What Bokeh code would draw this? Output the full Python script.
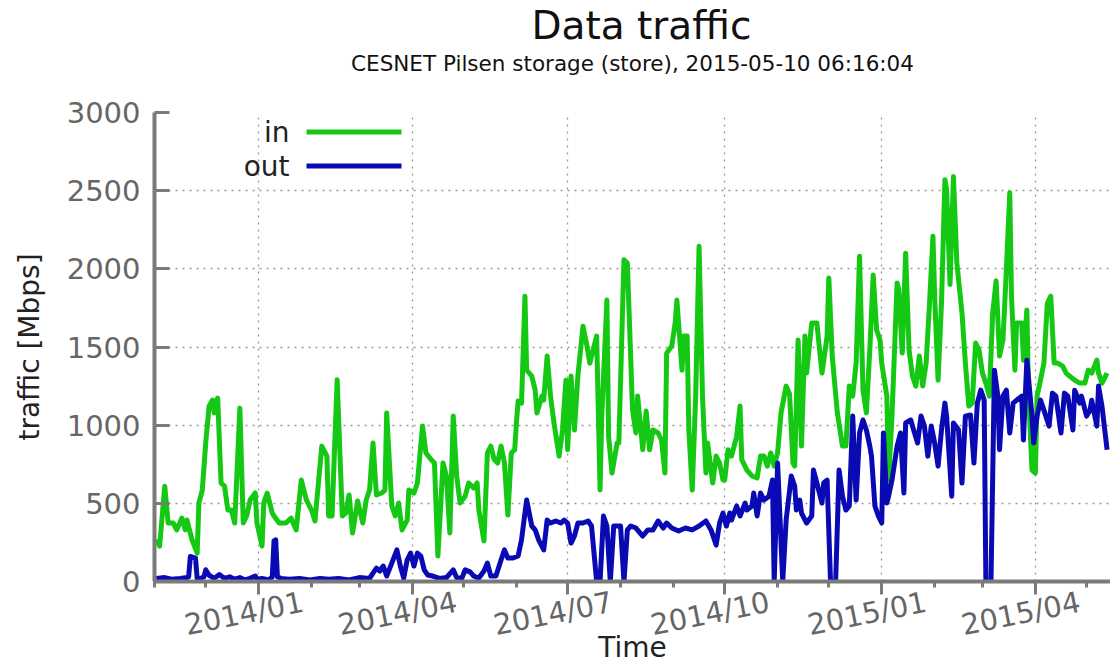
import pandas as pd
from bokeh.plotting import figure
from bokeh.models import (FixedTicker, DatetimeTickFormatter, Range1d, Label, BoxAnnotation,
                          DatetimeAxis, LinearAxis, CustomJSTickFormatter)
from bokeh.embed import file_html
from bokeh.resources import INLINE

start_date = "2013-11-01"
range_days = 560

in_days = [1, 3, 6, 8, 11, 13, 16, 18, 19, 22, 25, 26, 28, 30, 32, 34, 35, 37, 39, 41, 43, 45, 47, 50, 52, 54,
           56, 59, 60, 63, 64, 66, 69, 70, 73, 77, 80, 83, 86, 89, 92, 94, 98, 101, 102, 104, 107, 110, 112, 114,
           116, 119, 122, 124, 126, 128, 130, 133, 135, 136, 139, 141, 143, 145, 148, 149, 152, 154, 157, 159,
           162, 164, 166, 169, 171, 173, 175, 177, 179, 182, 184, 187, 189, 190, 193, 195, 197, 199, 201, 203,
           205, 207, 209, 211, 212, 213, 215, 217, 218, 221, 223, 224, 227, 228, 230, 232, 234, 237, 239, 241,
           242, 244, 246, 248, 251, 253, 255, 256, 259, 261, 262, 265, 266, 268, 271, 272, 275, 277, 280, 282,
           283, 286, 288, 290, 292, 295, 297, 299, 300, 303, 305, 306, 309, 310, 312, 313, 315, 317, 319, 321,
           323, 324, 327, 329, 331, 333, 334, 336, 338, 341, 343, 344, 347, 350, 353, 355, 357, 359, 361, 363,
           365, 367, 370, 372, 374, 375, 377, 379, 381, 382, 385, 388, 389, 391, 394, 395, 397, 400, 403, 405,
           407, 409, 411, 413, 415, 417, 419, 421, 423, 425, 426, 429, 430, 432, 435, 436, 438, 440, 442, 444,
           446, 448, 450, 452, 454, 456, 457, 459, 461, 463, 464, 466, 468, 470, 473, 475, 477, 479, 481, 483,
           485, 487, 489, 491, 493, 495, 497, 499, 501, 502, 504, 505, 508, 509, 511, 512, 514, 516, 517, 519,
           521, 523, 525, 527, 529, 532, 534, 536, 539, 542, 545, 547, 549, 552, 553, 555, 558]
in_mbps = [267, 227, 610, 374, 374, 330, 406, 330, 393, 267, 182, 502, 585, 886, 1122, 1161, 1078, 1173, 630,
           610, 457, 457, 374, 1109, 374, 419, 521, 566, 374, 227, 502, 566, 438, 419, 374, 374, 406, 330, 649,
           521, 457, 387, 866, 802, 419, 419, 1290, 419, 438, 553, 310, 515, 374, 521, 585, 886, 553, 566, 585,
           1078, 483, 419, 502, 330, 393, 585, 566, 630, 994, 822, 780, 758, 163, 758, 675, 310, 1058, 675, 502,
           546, 630, 598, 630, 457, 259, 822, 866, 780, 758, 866, 758, 425, 822, 843, 1014, 1154, 1141, 1825,
           1352, 1314, 1224, 1078, 1186, 1160, 1442, 1186, 1014, 802, 969, 1288, 843, 1314, 969, 1314, 1633,
           1525, 1397, 1442, 1570, 585, 1058, 1800, 929, 694, 886, 886, 2058, 2037, 1100, 950, 1186, 843, 1090,
           843, 969, 950, 905, 694, 1461, 1506, 1654, 1800, 1352, 1570, 1570, 969, 585, 1186, 2144, 1186, 694,
           886, 630, 802, 758, 649, 649, 843, 802, 929, 1122, 780, 713, 675, 662, 802, 802, 738, 822, 738, 822,
           1078, 1250, 1200, 758, 738, 1544, 866, 1570, 1333, 1654, 1654, 1544, 1333, 1570, 1942, 1442, 1078,
           866, 866, 1250, 1186, 1397, 2080, 1224, 1078, 1480, 1960, 1608, 1544, 1397, 1186, 649, 1058, 1910,
           1865, 1461, 2100, 1480, 1314, 1250, 1442, 1250, 1397, 1780, 2209, 1825, 1288, 1780, 2570, 2506, 1900,
           2590, 2037, 1718, 1397, 1122, 1141, 1525, 1480, 1333, 1269, 1186, 1718, 1923, 1442, 1544, 1993, 2487,
           1825, 1352, 1654, 1654, 1416, 1737, 1205, 713, 694, 1186, 1288, 1397, 1780, 1825, 1397, 1397, 1378,
           1333, 1314, 1288, 1269, 1269, 1352, 1333, 1416, 1333, 1269, 1333]

out_days = [1, 6, 10, 15, 19, 20, 21, 24, 25, 26, 29, 30, 32, 35, 38, 41, 44, 47, 50, 53, 56, 59, 60, 63, 67,
            69, 70, 71, 72, 74, 79, 85, 91, 97, 102, 108, 114, 120, 126, 128, 130, 132, 134, 136, 139, 142, 144,
            146, 148, 150, 152, 154, 156, 158, 160, 163, 167, 171, 175, 177, 180, 182, 185, 187, 190, 193, 195,
            197, 200, 203, 205, 207, 210, 213, 215, 217, 218, 221, 223, 225, 228, 230, 232, 235, 238, 240, 242,
            244, 246, 248, 251, 254, 256, 259, 261, 263, 265, 267, 269, 271, 273, 275, 277, 279, 282, 286, 289,
            292, 295, 298, 300, 303, 307, 311, 315, 319, 323, 326, 329, 331, 333, 335, 337, 338, 341, 343, 346,
            347, 350, 351, 353, 355, 357, 360, 362, 363, 365, 368, 370, 373, 375, 376, 378, 379, 382, 385, 386,
            388, 391, 392, 394, 396, 399, 401, 403, 405, 407, 409, 411, 413, 415, 417, 419, 420, 422, 424, 426,
            427, 429, 430, 432, 435, 437, 439, 440, 443, 444, 447, 449, 451, 453, 455, 457, 459, 461, 463, 464,
            467, 468, 471, 473, 475, 478, 480, 482, 484, 486, 487, 490, 492, 494, 495, 497, 499, 501, 503, 505,
            508, 509, 511, 514, 515, 517, 519, 521, 524, 526, 528, 531, 533, 535, 538, 539, 542, 543, 546, 548,
            549, 552, 553, 555, 558]
out_mbps = [20, 25, 15, 20, 25, 30, 160, 150, 20, 15, 30, 75, 40, 20, 45, 20, 30, 15, 25, 10, 20, 35, 15, 20,
            10, 30, 260, 267, 30, 20, 15, 20, 10, 20, 15, 20, 10, 25, 20, 54, 86, 67, 99, 35, 118, 202, 99, 22,
            137, 182, 99, 182, 163, 75, 42, 35, 20, 25, 75, 25, 20, 75, 60, 35, 22, 67, 118, 35, 35, 137, 202,
            150, 150, 163, 267, 438, 521, 355, 330, 267, 202, 393, 374, 387, 374, 393, 374, 246, 291, 374, 374,
            387, 355, 0, 0, 419, 355, 0, 355, 355, 355, 0, 330, 355, 342, 291, 330, 330, 387, 342, 374, 342, 323,
            342, 330, 355, 387, 330, 233, 374, 438, 355, 438, 393, 483, 419, 502, 457, 483, 566, 419, 566, 521,
            546, 649, 0, 758, 0, 393, 675, 610, 457, 521, 438, 374, 419, 713, 630, 502, 630, 649, 0, 0, 713, 546,
            457, 483, 1058, 521, 950, 1033, 969, 866, 802, 483, 419, 374, 950, 502, 546, 649, 866, 950, 566, 1014,
            1033, 994, 886, 1058, 994, 802, 994, 886, 738, 969, 1141, 1058, 546, 1014, 969, 630, 1058, 1065, 758,
            1141, 1224, 1160, 0, 0, 1352, 1186, 843, 1186, 1224, 950, 1141, 1160, 1186, 905, 1416, 1058, 886,
            1058, 1160, 1096, 994, 1205, 1186, 950, 1205, 1186, 969, 1224, 1141, 1186, 1058, 1096, 1160, 994,
            1250, 1122, 843]

x_ticks = ["2014-01-01", "2014-04-01", "2014-07-01", "2014-10-01", "2015-01-01", "2015-04-01"]
x_minor_ticks = ["2013-11-01", "2013-12-01", "2014-02-01", "2014-03-01", "2014-05-01", "2014-06-01",
                 "2014-08-01", "2014-09-01", "2014-11-01", "2014-12-01", "2015-02-01", "2015-03-01",
                 "2015-05-01"]
y_ticks = [0, 500, 1000, 1500, 2000, 2500, 3000]

title_text = "Data traffic"
subtitle_text = "CESNET Pilsen storage (store), 2015-05-10 06:16:04"
x_label = "Time"
y_label = "traffic [Mbps]"
series_names = ["in", "out"]
series_colors = ["#14c814", "#0a0ab4"]


def ms(ts):
    return pd.Timestamp(ts).value // 10**6


base = pd.Timestamp(start_date)
in_x = base + pd.to_timedelta(in_days, unit="D")
out_x = base + pd.to_timedelta(out_days, unit="D")

FONT = "DejaVu Sans"
GRAY = "#7a7a7a"
LABEL_GRAY = "#666666"
TICK_FS = "29px"

p = figure(x_axis_type="datetime", frame_width=956, frame_height=469,
           min_border_left=154, min_border_top=0, min_border_right=0, min_border_bottom=0,
           x_range=Range1d(ms(base), ms(base + pd.Timedelta(days=range_days))),
           y_range=Range1d(0, 3000),
           title=title_text,
           output_backend="svg", toolbar_location=None)
p.outline_line_color = None
p.background_fill_color = "white"
p.border_fill_color = "white"

p.title.text_font = FONT
p.title.text_font_size = "39px"
p.title.text_font_style = "normal"
p.title.text_color = "#111111"
p.title.align = "left"
p.title.offset = 377
p.title.standoff = 0

xa = p.below[0]   # the bottom datetime axis: ticks only
ya = p.left[0]

# subtitle as the label of a bare axis above the frame
sub_ax = LinearAxis(ticker=FixedTicker(ticks=[]), axis_label=subtitle_text,
                    axis_line_color=None, major_tick_line_color=None, minor_tick_line_color=None,
                    major_tick_in=0, major_tick_out=0, minor_tick_in=0, minor_tick_out=0,
                    major_label_standoff=0, axis_label_standoff=37,
                    axis_label_text_font=FONT, axis_label_text_font_size="21.5px",
                    axis_label_text_font_style="normal", axis_label_text_color="#111111")
p.add_layout(sub_ax, "above")

p.line(in_x, in_mbps, line_color=series_colors[0], line_width=5, line_join="round")
p.line(out_x, out_mbps, line_color=series_colors[1], line_width=5, line_join="round")

x_major = FixedTicker(ticks=[ms(t) for t in x_ticks], minor_ticks=[ms(t) for t in x_minor_ticks])
xa.ticker = x_major
xa.formatter = CustomJSTickFormatter(code="return ''")
xa.major_label_standoff = 0
xa.axis_line_color = GRAY
xa.axis_line_width = 4
xa.major_tick_line_color = GRAY
xa.major_tick_line_width = 3
xa.minor_tick_line_color = GRAY
xa.minor_tick_line_width = 3
xa.major_tick_in = 0
xa.major_tick_out = 13
xa.minor_tick_in = 0
xa.minor_tick_out = 6

# slanted month labels, centred near their ticks (gnuplot style)
label_shift = pd.Timedelta(days=26)
fmt = "%Y/%m"
xl = DatetimeAxis(ticker=FixedTicker(ticks=[ms(pd.Timestamp(t) + label_shift) for t in x_ticks], minor_ticks=[]),
                  formatter=DatetimeTickFormatter(microseconds=fmt, milliseconds=fmt, seconds=fmt, minsec=fmt,
                                                  minutes=fmt, hourmin=fmt, hours=fmt, days=fmt, months=fmt,
                                                  years=fmt),
                  axis_line_color=None, major_tick_line_color=None, minor_tick_line_color=None,
                  major_tick_in=0, major_tick_out=0, minor_tick_in=0, minor_tick_out=0,
                  major_label_orientation=0.2, major_label_standoff=7,
                  major_label_text_font=FONT, major_label_text_font_size=TICK_FS,
                  major_label_text_color=LABEL_GRAY,
                  axis_label=x_label, axis_label_standoff=-31,
                  axis_label_text_font=FONT, axis_label_text_font_size="28px",
                  axis_label_text_font_style="normal", axis_label_text_color="#222222")
p.add_layout(xl, "below")

y_major = FixedTicker(ticks=y_ticks, minor_ticks=[])
ya.ticker = y_major
ya.axis_label = y_label
ya.axis_line_color = GRAY
ya.axis_line_width = 4
ya.major_tick_line_color = GRAY
ya.major_tick_line_width = 3
ya.minor_tick_line_color = None
ya.major_label_text_font = FONT
ya.major_label_text_font_size = TICK_FS
ya.major_label_text_color = LABEL_GRAY
ya.axis_label_text_font = FONT
ya.axis_label_text_font_size = "28px"
ya.axis_label_text_font_style = "normal"
ya.axis_label_text_color = "#222222"
ya.major_tick_in = 15
ya.major_tick_out = 0
ya.major_label_standoff = 14
ya.axis_label_standoff = 18

p.xgrid[0].ticker = x_major
p.ygrid[0].ticker = y_major
for g in (p.xgrid[0], p.ygrid[0]):
    g.grid_line_color = "#999999"
    g.grid_line_width = 1.3
    g.grid_line_dash = "2 5"

# legend (gnuplot style: label then sample)
for i, (name, col) in enumerate(zip(series_names, series_colors)):
    yc = 449.5 - 34 * i
    p.add_layout(Label(x=135, y=yc, x_units="screen", y_units="screen", text=name,
                       text_align="right", text_baseline="middle", text_font=FONT,
                       text_font_size="28px", text_color="#222222"))
    p.add_layout(BoxAnnotation(left=152, right=247, bottom=yc - 2.5, top=yc + 2.5,
                               left_units="screen", right_units="screen",
                               bottom_units="screen", top_units="screen",
                               fill_color=col, fill_alpha=1.0, line_color=None))

open("out.html", "w").write(file_html(p, INLINE))
